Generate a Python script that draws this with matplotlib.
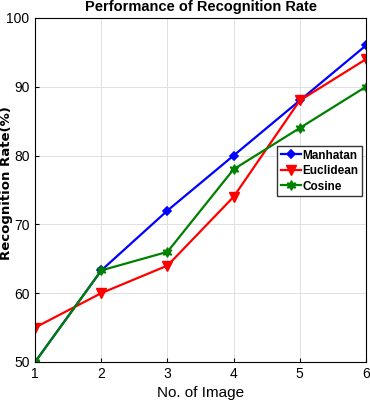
import matplotlib
matplotlib.use('Agg')
import matplotlib.pyplot as plt

images = [1, 2, 3, 4, 5, 6]
manhatan = [50, 63.3, 72, 80, 88, 96]
euclidean = [55, 60, 64, 74, 88, 94]
cosine = [50, 63.3, 66, 78, 84, 90]

plt.rcParams['font.family'] = ['Liberation Sans', 'DejaVu Sans']

fig = plt.figure(figsize=(3.7, 4.08), dpi=100)
ax = fig.add_axes([0.095, 0.113, 0.894, 0.843])

ax.plot(images, manhatan, color='#0000ff', marker='D', markersize=4.5,
        markeredgewidth=1.2, linewidth=1.6, label='Manhatan')
ax.plot(images, euclidean, color='#ff0000', marker='v', markersize=6.5,
        markeredgewidth=1.0, linewidth=1.6, label='Euclidean')
ax.plot(images, cosine, color='#008000', marker=(6, 1, 0), markersize=7,
        markeredgewidth=1.0, linewidth=1.6, label='Cosine')

ax.set_xlim(1, 6)
ax.set_ylim(50, 100)
ax.set_xticks(images)
ax.set_yticks([50, 60, 70, 80, 90, 100])
ax.grid(True, color='#e0e0e0', linewidth=0.7)
ax.tick_params(direction='in', length=3, labelsize=10, pad=4)

ax.set_title('Performance of Recognition Rate', fontsize=10.5, fontweight='bold', pad=5)
ax.set_xlabel('No. of Image', fontsize=11, labelpad=3)
ax.set_ylabel('Recognition Rate(%)', fontsize=9.5, fontweight='bold',
              family=['DejaVu Sans'])
ax.yaxis.set_label_coords(-0.066, 0.52)

leg = ax.legend(loc='upper right', bbox_to_anchor=(0.999, 0.638), fontsize=8.5, handlelength=1.7,
                borderpad=0.3, labelspacing=0.3, handletextpad=0.15, fancybox=False,
                framealpha=1, borderaxespad=0.3)
leg.get_frame().set_edgecolor('#333333')
for t in leg.get_texts():
    t.set_fontweight('bold')

fig.savefig('out.png', dpi=100)
